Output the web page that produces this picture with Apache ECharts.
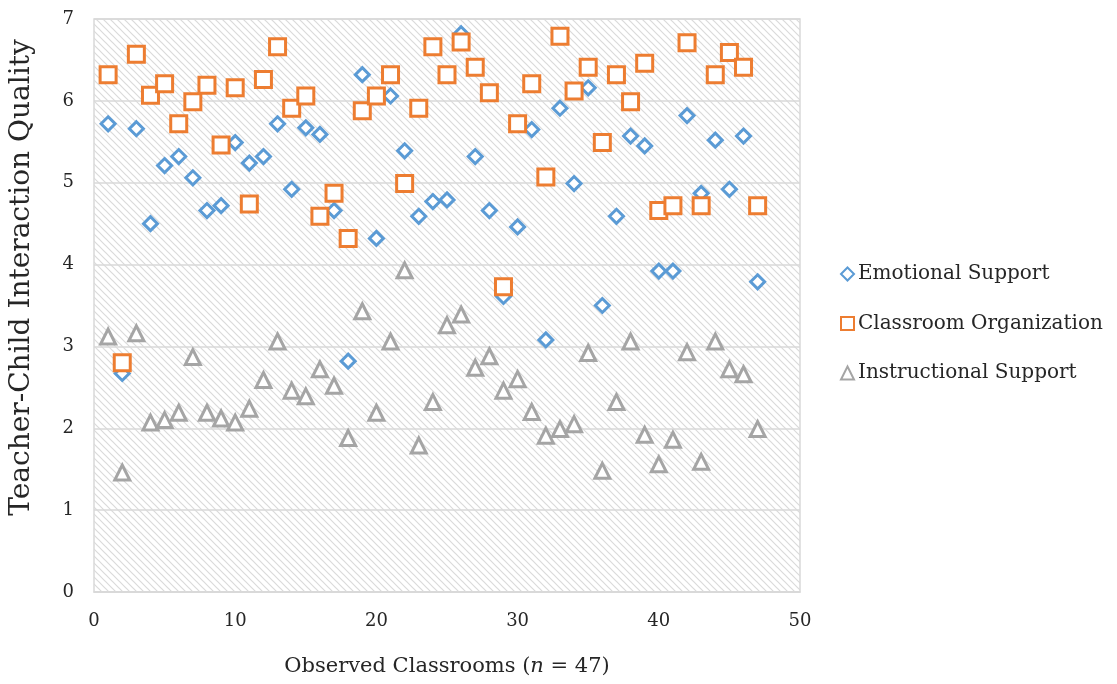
<!DOCTYPE html>
<html>
<head>
<meta charset="utf-8">
<title>Teacher-Child Interaction Quality</title>
<script src="https://cdn.jsdelivr.net/npm/echarts@6/dist/echarts.min.js"></script>
<style>
  html, body { margin: 0; padding: 0; background: #ffffff; }
  #chart { width: 1117px; height: 684px; }
</style>
</head>
<body>
<div id="chart"></div>
<script>
// Classroom numbers 1..47
const classrooms = [
  1, 2, 3, 4, 5, 6, 7, 8, 9, 10, 11, 12, 13, 14, 15, 16, 17, 18, 19, 20,
  21, 22, 23, 24, 25, 26, 27, 28, 29, 30, 31, 32, 33, 34, 35, 36, 37, 38, 39, 40,
  41, 42, 43, 44, 45, 46, 47
];

// CLASS domain scores per classroom
const emotionalSupport = [
  5.72, 2.67, 5.66, 4.50, 5.21, 5.32, 5.06, 4.66, 4.72, 5.49,
  5.24, 5.32, 5.72, 4.92, 5.67, 5.59, 4.66, 2.82, 6.32, 4.32,
  6.06, 5.39, 4.59, 4.77, 4.79, 6.82, 5.32, 4.66, 3.61, 4.46,
  5.65, 3.08, 5.91, 4.99, 6.16, 3.50, 4.59, 5.57, 5.45, 3.92,
  3.92, 5.82, 4.87, 5.52, 4.92, 5.57, 3.79
];
const classroomOrganization = [
  6.32, 2.80, 6.57, 6.07, 6.21, 5.72, 5.99, 6.19, 5.46, 6.16,
  4.74, 6.26, 6.66, 5.91, 6.06, 4.59, 4.87, 4.32, 5.88, 6.06,
  6.32, 4.99, 5.91, 6.66, 6.32, 6.72, 6.41, 6.10, 3.73, 5.72,
  6.21, 5.07, 6.79, 6.12, 6.41, 5.49, 6.32, 5.99, 6.46, 4.66,
  4.72, 6.71, 4.72, 6.32, 6.59, 6.41, 4.72
];
const instructionalSupport = [
  3.12, 1.46, 3.16, 2.07, 2.10, 2.19, 2.87, 2.19, 2.12, 2.07,
  2.24, 2.59, 3.06, 2.46, 2.39, 2.72, 2.52, 1.88, 3.43, 2.19,
  3.06, 3.93, 1.79, 2.32, 3.26, 3.39, 2.74, 2.88, 2.46, 2.60,
  2.20, 1.91, 1.99, 2.05, 2.92, 1.48, 2.32, 3.06, 1.92, 1.56,
  1.86, 2.93, 1.59, 3.06, 2.72, 2.66, 1.99
];

const seriesNames = ['Emotional Support', 'Classroom Organization', 'Instructional Support'];

const FONT = 'DejaVu Serif';
const TEXT = '#262626';
const GRID_LINE = '#d9d9d9';

// Light diagonal hatch used as the plot-area fill
function hatchPattern() {
  const size = 7;
  const c = document.createElement('canvas');
  c.width = size; c.height = size;
  const g = c.getContext('2d');
  g.fillStyle = '#ffffff';
  g.fillRect(0, 0, size, size);
  g.strokeStyle = '#dadada';
  g.lineWidth = 1.2;
  g.beginPath();
  g.moveTo(-1, -1); g.lineTo(size + 1, size + 1);
  g.moveTo(-1, size - 1); g.lineTo(1, size + 1);
  g.moveTo(size - 1, -1); g.lineTo(size + 1, 1);
  g.stroke();
  return { image: c, repeat: 'repeat' };
}

function pairs(values) {
  return classrooms.map((x, i) => [x, values[i]]);
}

function scatter(name, values, color, symbol, size) {
  return {
    name: name,
    type: 'scatter',
    data: pairs(values),
    symbol: symbol,
    symbolSize: size,
    itemStyle: { color: '#ffffff', borderColor: color, borderWidth: 3, opacity: 1 },
    emphasis: { disabled: true },
    z: 3
  };
}

const chart = echarts.init(document.getElementById('chart'), null, { renderer: 'canvas' });

chart.setOption({
  animation: false,
  backgroundColor: '#ffffff',
  textStyle: { fontFamily: FONT, color: TEXT },
  grid: {
    left: 92, right: 317, top: 19, bottom: 92,
    show: true,
    backgroundColor: hatchPattern(),
    borderColor: GRID_LINE,
    borderWidth: 1.5
  },
  legend: {
    orient: 'vertical',
    left: 835,
    top: 259,
    itemGap: 29.5,
    itemWidth: 13,
    itemHeight: 13,
    data: seriesNames,
    textStyle: { fontFamily: FONT, fontSize: 20, color: TEXT, padding: [0, 0, 0, -1] }
  },
  xAxis: {
    type: 'value',
    min: 0, max: 50, interval: 10,
    name: '{a|Observed Classrooms (}{i|n}{a| = 47)}',
    nameLocation: 'middle',
    nameGap: 64,
    nameTextStyle: {
      rich: {
        a: { fontFamily: FONT, fontSize: 21, color: TEXT },
        i: { fontFamily: FONT, fontSize: 21, color: TEXT, fontStyle: 'italic' }
      }
    },
    axisLine: { show: true, lineStyle: { color: GRID_LINE, width: 1.5 } },
    axisTick: { show: false },
    splitLine: { show: false },
    axisLabel: { fontFamily: FONT, fontSize: 18, color: TEXT, margin: 20 }
  },
  yAxis: {
    type: 'value',
    min: 0, max: 7, interval: 1,
    name: 'Teacher-Child Interaction Quality',
    nameLocation: 'middle',
    nameGap: 58,
    nameTextStyle: { fontFamily: FONT, fontSize: 28, color: TEXT, padding: [0, 0, 0, 56] },
    axisLine: { show: false },
    axisTick: { show: false },
    splitLine: { show: true, lineStyle: { color: GRID_LINE, width: 1.5 } },
    axisLabel: { fontFamily: FONT, fontSize: 18, color: TEXT, margin: 20 }
  },
  series: [
    scatter(seriesNames[0], emotionalSupport, '#5B9BD5', 'diamond', 14),
    scatter(seriesNames[1], classroomOrganization, '#ED7D31', 'rect', 16),
    scatter(seriesNames[2], instructionalSupport, '#A5A5A5', 'triangle', 15)
  ]
});
</script>
</body>
</html>
